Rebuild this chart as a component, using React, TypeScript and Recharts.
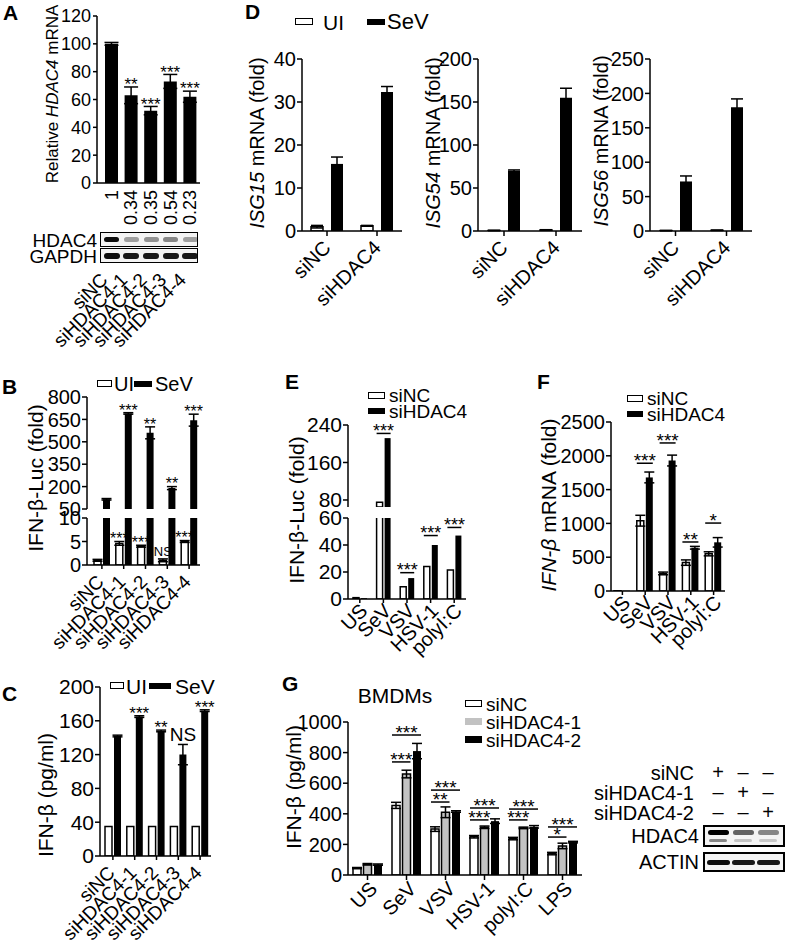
import React from "react";
import { BarChart, Bar, XAxis, YAxis, ErrorBar, LabelList } from "recharts";

const FONT = '"Liberation Sans", Arial, Helvetica, sans-serif';
const INK = "#000";
const GREY = "#c2c2c2";

// ---- A: HDAC4 knockdown efficiency ----
const aLanes = ["siNC", "siHDAC4-1", "siHDAC4-2", "siHDAC4-3", "siHDAC4-4"];
const aMrna = [100, 63, 52, 73, 62];
const aErr = [1, 6, 3, 5, 4];
const aSig = ["", "**", "***", "***", "***"];
const aFold = ["1", "0.34", "0.35", "0.54", "0.23"];
const aTicks = [0, 20, 40, 60, 80, 100, 120];
const aHdac4Band = [0.95, 0.35, 0.4, 0.45, 0.35];
const aGapdhBand = [0.95, 0.9, 0.9, 0.9, 0.9];

// ---- B: IFN-b-Luc, broken axis ----
const bUI = [1, 4.6, 4.0, 1.0, 5.0];
const bUIErr = [0.2, 0.4, 0.2, 0.3, 0.2];
const bSeV = [115, 690, 560, 190, 645];
const bSeVErr = [5, 5, 40, 10, 40];
const bSigUI = ["", "***", "***", "NS", "***"];
const bSigSeV = ["", "***", "**", "**", "***"];
const bTicksTop = [50, 200, 350, 500, 650, 800];
const bTicksLow = [0, 5, 10];

// ---- C: IFN-b ELISA ----
const cUI = [35, 35, 35, 35, 35];
const cUIErr = [0.5, 0.5, 0.5, 0.5, 0.5];
const cSeV = [142, 165, 148, 120, 172];
const cSeVErr = [1, 1, 1, 12, 1];
const cSig = ["", "***", "**", "NS", "***"];
const cTicks = [0, 40, 80, 120, 160, 200];

// ---- D: ISGs ----
const dGroups = ["siNC", "siHDAC4"];
const isg15UI = [1.0, 1.2];
const isg15UIErr = [0.3, 0.1];
const isg15SeV = [15.6, 32.3];
const isg15SeVErr = [1.6, 1.3];
const isg15Ticks = [0, 10, 20, 30, 40];
const isg54UI = [0.6, 1.2];
const isg54UIErr = [0.1, 0.3];
const isg54SeV = [70, 155];
const isg54SeVErr = [1, 11];
const isg54Ticks = [0, 50, 100, 150, 200];
const isg56UI = [0.6, 1.0];
const isg56UIErr = [0.1, 0.2];
const isg56SeV = [72, 180];
const isg56SeVErr = [8, 12];
const isg56Ticks = [0, 50, 100, 150, 200, 250];

// ---- E: IFN-b-Luc by stimulus ----
const stimuli = ["US", "SeV", "VSV", "HSV-1", "polyI:C"];
const eNC = [1, 75, 9, 24, 21.5];
const eKD = [0.6, 212, 15.5, 40, 47];
const eSig = ["", "***", "***", "***", "***"];
const eSigAt = [null, 222, 19.5, 47, 53];
const eTicksTop = [80, 160, 240];
const eTicksLow = [0, 20, 40, 60];

// ---- F: IFN-b mRNA ----
const fNC = [4, 1040, 260, 420, 550];
const fNCErr = [0, 80, 20, 40, 30];
const fKD = [4, 1680, 1930, 640, 720];
const fKDErr = [0, 80, 80, 20, 70];
const fSig = ["", "***", "***", "**", "*"];
const fSigAt = [null, 1890, 2190, 725, 1005];
const fTicks = [0, 500, 1000, 1500, 2000, 2500];

// ---- G: BMDMs ----
const gStimuli = ["US", "SeV", "VSV", "HSV-1", "polyI:C", "LPS"];
const gNC = [45, 455, 300, 250, 238, 140];
const gNCErr = [4, 20, 15, 8, 8, 8];
const gKD1 = [70, 660, 410, 312, 308, 190];
const gKD1Err = [5, 25, 35, 8, 5, 18];
const gKD2 = [68, 810, 415, 352, 315, 215];
const gKD2Err = [4, 50, 5, 15, 8, 5];
const gSig1 = ["", "***", "**", "***", "***", "*"];
const gSig1At = [null, 739, 477, 360, 360, 248];
const gSig2 = ["", "***", "***", "***", "***", "***"];
const gSig2At = [null, 915, 555, 438, 431, 314];
const gTicks = [0, 200, 400, 600, 800, 1000];
const gBlotRows = ["siNC", "siHDAC4-1", "siHDAC4-2"];
const gBlotSigns = [
  ["+", "–", "–"],
  ["–", "+", "–"],
  ["–", "–", "+"],
];
const gHdac4Band = [1, 0.6, 0.45];
const gHdac4Lower = [0.45, 0.2, 0.18];
const gActinBand = [0.95, 0.9, 0.9];

const line = { stroke: INK, strokeWidth: 1.5 };
const tickFont = (fs: number) => ({ fill: INK, fontSize: fs, fontFamily: FONT });

// rotated category labels, anchored at their end
function rotTick(dx: number, dy: number, fs: number, tickSize: number) {
  return (p: any) => {
    const ax = p.x + dx;
    const ay = p.y - tickSize + dy;
    return (
      <text x={ax} y={ay} textAnchor="end" fontSize={fs} fontFamily={FONT} fill={INK} transform={`rotate(-45 ${ax} ${ay})`}>
        {p.payload.value}
      </text>
    );
  };
}

// significance marks sitting on top of the error bar
function starLabel(cats: string[], sigs: string[], vals: number[], errs: number[], base: number, fs = 17, nsFs = 18) {
  return (p: any) => {
    const i = cats.indexOf(p.value);
    const s = sigs[i];
    if (!s) return null;
    const x = Number(p.x), y = Number(p.y), w = Number(p.width), h = Number(p.height);
    const ppu = h / (vals[i] - base);
    const top = y - errs[i] * ppu;
    const star = s.includes("*");
    return (
      <text x={x + w / 2} y={star ? top + fs * 0.43 - 4 : top - 3} textAnchor="middle" fontSize={star ? fs : nsFs} fontFamily={FONT} fill={INK}>
        {s}
      </text>
    );
  };
}

// significance bar spanning from the group's first bar to this one
function pairLabel(cats: string[], sigs: string[], at: (number | null)[], vals: number[], base: number, hi: number, span: number, fs = 18) {
  return (p: any) => {
    const i = cats.indexOf(p.value);
    const s = sigs[i];
    const L = at[i];
    if (!s || L == null || L < base || L > hi) return null;
    const x = Number(p.x), y = Number(p.y), w = Number(p.width), h = Number(p.height);
    const ppu = h / (vals[i] - base);
    const ly = y + h - (L - base) * ppu;
    const x1 = x - span;
    const x2 = x + w;
    return (
      <g>
        <line x1={x1} x2={x2} y1={ly} y2={ly} stroke={INK} strokeWidth={1.5} />
        <text x={(x1 + x2) / 2} y={ly + fs * 0.43 - 4} textAnchor="middle" fontSize={fs} fontFamily={FONT} fill={INK}>
          {s}
        </text>
      </g>
    );
  };
}

const Txt = ({ x, y, fs = 20, anchor = "start", bold = false, children }: any) => (
  <div
    style={{
      position: "absolute",
      left: x,
      top: y - fs / 2,
      fontSize: fs,
      lineHeight: `${fs}px`,
      fontFamily: FONT,
      fontWeight: bold ? 700 : 400,
      whiteSpace: "nowrap",
      transform: anchor === "end" ? "translateX(-100%)" : anchor === "middle" ? "translateX(-50%)" : undefined,
    }}
  >
    {children}
  </div>
);

const VTxt = ({ x, y, fs = 20, children }: any) => (
  <div
    style={{
      position: "absolute",
      left: x,
      top: y,
      fontSize: fs,
      lineHeight: `${fs}px`,
      fontFamily: FONT,
      whiteSpace: "nowrap",
      transform: "translate(-50%, -50%) rotate(-90deg)",
    }}
  >
    {children}
  </div>
);

const Box = ({ x, y, w, h, fill, border = 1.5 }: any) => (
  <div
    style={{
      position: "absolute",
      left: x,
      top: y,
      width: w,
      height: h,
      background: fill,
      border: border ? `${border}px solid ${INK}` : "none",
      boxSizing: "border-box",
    }}
  />
);

const Band = ({ cx, cy, w, h, a }: any) => (
  <div
    style={{
      position: "absolute",
      left: cx - w / 2,
      top: cy - h / 2,
      width: w,
      height: h,
      borderRadius: h / 2,
      background: `rgba(0,0,0,${a})`,
      filter: "blur(0.7px)",
    }}
  />
);

const At = ({ x, y, children }: any) => <div style={{ position: "absolute", left: x, top: y }}>{children}</div>;

function PanelA() {
  const data = aLanes.map((name, i) => ({ name, v: aMrna[i], e: aErr[i] }));
  const aTick = (p: any) => {
    const i = aLanes.indexOf(p.payload.value);
    const fx = p.x + 6, fy = p.y + 7;
    const lx = p.x - 3, ly = p.y + 98;
    return (
      <g>
        <text x={fx} y={fy} textAnchor="end" fontSize={18} fontFamily={FONT} fill={INK} transform={`rotate(-90 ${fx} ${fy})`}>
          {aFold[i]}
        </text>
        <text x={lx} y={ly} textAnchor="end" fontSize={19} fontFamily={FONT} fill={INK} transform={`rotate(-45 ${lx} ${ly})`}>
          {p.payload.value}
        </text>
      </g>
    );
  };
  return (
    <At x={0} y={0}>
      <BarChart width={210} height={370} data={data} margin={{ top: 16, right: 10, left: 0, bottom: 0 }}>
        <XAxis dataKey="name" height={187} interval={0} padding={{ left: 5, right: 0 }} tickSize={0} tickMargin={0} axisLine={line} tickLine={false} tick={aTick} />
        <YAxis domain={[0, 120]} ticks={aTicks} interval={0} width={97} tick={tickFont(18)} tickSize={4} tickMargin={2} axisLine={line} tickLine={line} allowDataOverflow />
        <Bar dataKey="v" fill={INK} barSize={13} isAnimationActive={false}>
          <ErrorBar dataKey="e" width={7} stroke={INK} strokeWidth={1.5} />
          <LabelList dataKey="name" content={starLabel(aLanes, aSig, aMrna, aErr, 0)} />
        </Bar>
      </BarChart>
    </At>
  );
}

function PanelB() {
  const top = aLanes.map((name, i) => ({ name, ui: null, sev: bSeV[i], sevErr: bSeVErr[i] }));
  const low = aLanes.map((name, i) => ({ name, ui: bUI[i], uiErr: bUIErr[i], sev: bSeV[i] }));
  return (
    <>
      <At x={0} y={380}>
        <BarChart width={210} height={140} data={top} margin={{ top: 17, right: 10, left: 0, bottom: 11 }} barGap={2}>
          <XAxis dataKey="name" hide padding={{ left: 4, right: 0 }} />
          <YAxis domain={[50, 800]} ticks={bTicksTop} interval={0} width={87} tick={tickFont(20)} tickSize={5} tickMargin={1} axisLine={line} tickLine={line} allowDataOverflow />
          <Bar dataKey="ui" barSize={7} fill="#fff" stroke={INK} strokeWidth={1.5} isAnimationActive={false} />
          <Bar dataKey="sev" barSize={7} fill={INK} isAnimationActive={false}>
            <ErrorBar dataKey="sevErr" width={5} stroke={INK} strokeWidth={1.5} />
            <LabelList dataKey="name" content={starLabel(aLanes, bSigSeV, bSeV, bSeVErr, 50, 16)} />
          </Bar>
        </BarChart>
      </At>
      <At x={0} y={498}>
        <BarChart width={210} height={213} data={low} margin={{ top: 20, right: 10, left: 0, bottom: 0 }} barGap={2}>
          <XAxis dataKey="name" height={146} interval={0} padding={{ left: 4, right: 0 }} tickSize={4} tickMargin={0} axisLine={line} tickLine={line} tick={rotTick(3, 18, 19, 4)} />
          <YAxis domain={[0, 10]} ticks={bTicksLow} interval={0} width={87} tick={tickFont(20)} tickSize={5} tickMargin={1} axisLine={line} tickLine={line} allowDataOverflow />
          <Bar dataKey="ui" barSize={7} fill="#fff" stroke={INK} strokeWidth={1.5} isAnimationActive={false}>
            <ErrorBar dataKey="uiErr" width={5} stroke={INK} strokeWidth={1.5} />
            <LabelList dataKey="name" content={starLabel(aLanes, bSigUI, bUI, bUIErr, 0, 16, 13)} />
          </Bar>
          <Bar dataKey="sev" barSize={7} fill={INK} isAnimationActive={false} />
        </BarChart>
      </At>
    </>
  );
}

function PanelC() {
  const data = aLanes.map((name, i) => ({ name, ui: cUI[i], uiErr: cUIErr[i], sev: cSeV[i], sevErr: cSeVErr[i] }));
  return (
    <At x={0} y={670}>
      <BarChart width={221} height={279} data={data} margin={{ top: 17, right: 10, left: 0, bottom: 0 }} barGap={2}>
        <XAxis dataKey="name" height={93} interval={0} padding={{ left: 2, right: 0 }} tickSize={4} tickMargin={0} axisLine={line} tickLine={line} tick={rotTick(3, 18, 19, 4)} />
        <YAxis domain={[0, 200]} ticks={cTicks} interval={0} width={100} tick={tickFont(21)} tickSize={5} tickMargin={1} axisLine={line} tickLine={line} allowDataOverflow />
        <Bar dataKey="ui" barSize={7} fill="#fff" stroke={INK} strokeWidth={1.5} isAnimationActive={false} />
        <Bar dataKey="sev" barSize={7} fill={INK} isAnimationActive={false}>
          <ErrorBar dataKey="sevErr" width={5} stroke={INK} strokeWidth={1.5} />
          <LabelList dataKey="name" content={starLabel(aLanes, cSig, cSeV, cSeVErr, 0, 17, 19)} />
        </Bar>
      </BarChart>
    </At>
  );
}

function IsgChart({ left, yw, ui, uiErr, sev, sevErr, ticks }: any) {
  const data = dGroups.map((name, i) => ({ name, ui: ui[i], uiErr: uiErr[i], sev: sev[i], sevErr: sevErr[i] }));
  return (
    <At x={left} y={40}>
      <BarChart width={212} height={280} data={data} margin={{ top: 19, right: 10, left: 0, bottom: 0 }} barGap={8}>
        <XAxis dataKey="name" height={89} interval={0} tickSize={5} tickMargin={0} axisLine={line} tickLine={line} tick={rotTick(5, 18, 20, 5)} />
        <YAxis domain={[0, ticks[ticks.length - 1]]} ticks={ticks} interval={0} width={yw} tick={tickFont(20)} tickSize={5} tickMargin={1} axisLine={line} tickLine={line} allowDataOverflow />
        <Bar dataKey="ui" barSize={12} fill="#fff" stroke={INK} strokeWidth={1.5} isAnimationActive={false}>
          <ErrorBar dataKey="uiErr" width={6} stroke={INK} strokeWidth={1.5} />
        </Bar>
        <Bar dataKey="sev" barSize={12} fill={INK} isAnimationActive={false}>
          <ErrorBar dataKey="sevErr" width={6} stroke={INK} strokeWidth={1.5} />
        </Bar>
      </BarChart>
    </At>
  );
}

function PanelE() {
  const topMin = 65;
  const top = stimuli.map((name, i) => ({ name, nc: eNC[i] > topMin ? eNC[i] : null, kd: eKD[i] > topMin ? eKD[i] : null }));
  const low = stimuli.map((name, i) => ({ name, nc: eNC[i], kd: eKD[i] }));
  return (
    <>
      <At x={280} y={405}>
        <BarChart width={196} height={112} data={top} margin={{ top: 20, right: 10, left: 0, bottom: 10 }} barGap={2}>
          <XAxis dataKey="name" hide />
          <YAxis domain={[topMin, 240]} ticks={eTicksTop} interval={0} width={68} tick={tickFont(21)} tickSize={5} tickMargin={1} axisLine={line} tickLine={line} allowDataOverflow />
          <Bar dataKey="nc" barSize={6} fill="#fff" stroke={INK} strokeWidth={1.5} isAnimationActive={false} />
          <Bar dataKey="kd" barSize={6} fill={INK} isAnimationActive={false}>
            <LabelList dataKey="name" content={pairLabel(stimuli, eSig, eSigAt, eKD, topMin, 240, 8)} />
          </Bar>
        </BarChart>
      </At>
      <At x={280} y={498}>
        <BarChart width={196} height={172} data={low} margin={{ top: 20, right: 10, left: 0, bottom: 0 }} barGap={2}>
          <XAxis dataKey="name" height={71} interval={0} tickSize={4} tickMargin={0} axisLine={line} tickLine={line} tick={rotTick(9, 13, 20, 4)} />
          <YAxis domain={[0, 60]} ticks={eTicksLow} interval={0} width={68} tick={tickFont(21)} tickSize={5} tickMargin={1} axisLine={line} tickLine={line} allowDataOverflow />
          <Bar dataKey="nc" barSize={6} fill="#fff" stroke={INK} strokeWidth={1.5} isAnimationActive={false} />
          <Bar dataKey="kd" barSize={6} fill={INK} isAnimationActive={false}>
            <LabelList dataKey="name" content={pairLabel(stimuli, eSig, eSigAt, eKD, 0, 60, 8)} />
          </Bar>
        </BarChart>
      </At>
    </>
  );
}

function PanelF() {
  const data = stimuli.map((name, i) => ({ name, nc: fNC[i], ncErr: fNCErr[i], kd: fKD[i], kdErr: fKDErr[i] }));
  return (
    <At x={520} y={400}>
      <BarChart width={215} height={270} data={data} margin={{ top: 22, right: 10, left: 0, bottom: 0 }} barGap={2}>
        <XAxis dataKey="name" height={79} interval={0} tickSize={4} tickMargin={0} axisLine={line} tickLine={line} tick={rotTick(9, 13, 20, 4)} />
        <YAxis domain={[0, 2500]} ticks={fTicks} interval={0} width={91} tick={tickFont(20)} tickSize={5} tickMargin={1} axisLine={line} tickLine={line} allowDataOverflow />
        <Bar dataKey="nc" barSize={7} fill="#fff" stroke={INK} strokeWidth={1.5} isAnimationActive={false}>
          <ErrorBar dataKey="ncErr" width={5} stroke={INK} strokeWidth={1.5} />
        </Bar>
        <Bar dataKey="kd" barSize={7} fill={INK} isAnimationActive={false}>
          <ErrorBar dataKey="kdErr" width={5} stroke={INK} strokeWidth={1.5} />
          <LabelList dataKey="name" content={pairLabel(stimuli, fSig, fSigAt, fKD, 0, 2500, 9, 19)} />
        </Bar>
      </BarChart>
    </At>
  );
}

function PanelG() {
  const data = gStimuli.map((name, i) => ({
    name,
    nc: gNC[i],
    ncErr: gNCErr[i],
    kd1: gKD1[i],
    kd1Err: gKD1Err[i],
    kd2: gKD2[i],
    kd2Err: gKD2Err[i],
  }));
  return (
    <At x={280} y={700}>
      <BarChart width={312} height={249} data={data} margin={{ top: 22, right: 10, left: 0, bottom: 0 }} barGap={2.5}>
        <XAxis dataKey="name" height={74} interval={0} tickSize={5} tickMargin={0} axisLine={line} tickLine={line} tick={rotTick(11, 15, 20, 5)} />
        <YAxis domain={[0, 1000]} ticks={gTicks} interval={0} width={68} tick={tickFont(20)} tickSize={5} tickMargin={1} axisLine={line} tickLine={line} allowDataOverflow />
        <Bar dataKey="nc" barSize={8} fill="#fff" stroke={INK} strokeWidth={1.5} isAnimationActive={false}>
          <ErrorBar dataKey="ncErr" width={5} stroke={INK} strokeWidth={1.5} />
        </Bar>
        <Bar dataKey="kd1" barSize={8} fill={GREY} stroke={INK} strokeWidth={1.5} isAnimationActive={false}>
          <ErrorBar dataKey="kd1Err" width={5} stroke={INK} strokeWidth={1.5} />
          <LabelList dataKey="name" content={pairLabel(gStimuli, gSig1, gSig1At, gKD1, 0, 1000, 10.5, 19)} />
        </Bar>
        <Bar dataKey="kd2" barSize={8} fill={INK} isAnimationActive={false}>
          <ErrorBar dataKey="kd2Err" width={5} stroke={INK} strokeWidth={1.5} />
          <LabelList dataKey="name" content={pairLabel(gStimuli, gSig2, gSig2At, gKD2, 0, 1000, 21, 19)} />
        </Bar>
      </BarChart>
    </At>
  );
}

export default function App() {
  const aLaneX = aLanes.map((_, i) => 102 + 19.6 * (i + 0.5));
  const gLaneX = [718, 743, 768];
  return (
    <div style={{ position: "absolute", left: 0, top: 0, width: 786, height: 949, background: "#fff", overflow: "hidden", fontFamily: FONT }}>
      <PanelA />
      <PanelB />
      <PanelC />
      <IsgChart left={200} yw={102} ui={isg15UI} uiErr={isg15UIErr} sev={isg15SeV} sevErr={isg15SeVErr} ticks={isg15Ticks} />
      <IsgChart left={380} yw={98} ui={isg54UI} uiErr={isg54UIErr} sev={isg54SeV} sevErr={isg54SeVErr} ticks={isg54Ticks} />
      <IsgChart left={550} yw={100} ui={isg56UI} uiErr={isg56UIErr} sev={isg56SeV} sevErr={isg56SeVErr} ticks={isg56Ticks} />
      <PanelE />
      <PanelF />
      <PanelG />

      {/* panel letters */}
      <Txt x={3} y={12} fs={21} bold>A</Txt>
      <Txt x={2} y={386} fs={21} bold>B</Txt>
      <Txt x={2} y={693} fs={21} bold>C</Txt>
      <Txt x={245} y={11} fs={21} bold>D</Txt>
      <Txt x={285} y={381} fs={21} bold>E</Txt>
      <Txt x={537} y={381} fs={21} bold>F</Txt>
      <Txt x={282} y={683} fs={21} bold>G</Txt>

      {/* axis titles */}
      <VTxt x={52} y={94} fs={17}>
        Relative <i>HDAC4</i> mRNA
      </VTxt>
      <VTxt x={35} y={478} fs={21}>IFN-β-Luc (fold)</VTxt>
      <VTxt x={45} y={795} fs={21}>IFN-β (pg/ml)</VTxt>
      <VTxt x={257} y={143} fs={20}>
        <i>ISG15</i> mRNA (fold)
      </VTxt>
      <VTxt x={433} y={143} fs={20}>
        <i>ISG54</i> mRNA (fold)
      </VTxt>
      <VTxt x={601} y={141} fs={20}>
        <i>ISG56</i> mRNA (fold)
      </VTxt>
      <VTxt x={296} y={510} fs={21}>IFN-β-Luc (fold)</VTxt>
      <VTxt x={548} y={505} fs={21}>
        <i>IFN-β</i> mRNA (fold)
      </VTxt>
      <VTxt x={293} y={787} fs={21}>IFN-β (pg/ml)</VTxt>

      {/* A blot */}
      <Box x={100} y={232} w={98} h={15} fill="#f4f4f4" />
      <Box x={100} y={248} w={98} h={15} fill="#f4f4f4" />
      {aLaneX.map((cx, i) => (
        <Band key={"ah" + i} cx={cx} cy={239.5} w={15} h={5} a={aHdac4Band[i]} />
      ))}
      {aLaneX.map((cx, i) => (
        <Band key={"ag" + i} cx={cx} cy={255.5} w={16} h={6} a={aGapdhBand[i]} />
      ))}
      <Txt x={97} y={240} fs={19} anchor="end">HDAC4</Txt>
      <Txt x={97} y={256} fs={19} anchor="end">GAPDH</Txt>

      {/* legends */}
      <Box x={97} y={380} w={15} h={7} fill="#fff" />
      <Txt x={114} y={384} fs={20}>UI</Txt>
      <Box x={134} y={381} w={18} h={6} fill={INK} border={0} />
      <Txt x={155} y={384} fs={20}>SeV</Txt>

      <Box x={110} y={682} w={14} h={7} fill="#fff" />
      <Txt x={126} y={686} fs={21}>UI</Txt>
      <Box x={149} y={683} w={22} h={6} fill={INK} border={0} />
      <Txt x={175} y={686} fs={21}>SeV</Txt>

      <Box x={295} y={18} w={18} h={7} fill="#fff" />
      <Txt x={323} y={22} fs={21}>UI</Txt>
      <Box x={367} y={19} w={18} h={6} fill={INK} border={0} />
      <Txt x={387} y={22} fs={22}>SeV</Txt>

      <Box x={368} y={392} w={17} h={7} fill="#fff" />
      <Txt x={389} y={395} fs={19}>siNC</Txt>
      <Box x={368} y={408} w={17} h={6} fill={INK} border={0} />
      <Txt x={389} y={411} fs={19}>siHDAC4</Txt>

      <Box x={627} y={395} w={16} h={7} fill="#fff" />
      <Txt x={647} y={398} fs={19}>siNC</Txt>
      <Box x={627} y={411} w={16} h={6} fill={INK} border={0} />
      <Txt x={647} y={414} fs={19}>siHDAC4</Txt>

      <Txt x={395} y={695} fs={21} anchor="middle">BMDMs</Txt>
      <Box x={465} y={700} w={17} h={7} fill="#fff" />
      <Txt x={486} y={704} fs={19}>siNC</Txt>
      <Box x={465} y={718} w={17} h={7} fill={GREY} border={0} />
      <Txt x={486} y={722} fs={19}>siHDAC4-1</Txt>
      <Box x={465} y={736} w={17} h={7} fill={INK} border={0} />
      <Txt x={486} y={740} fs={19}>siHDAC4-2</Txt>

      {/* G blot */}
      {gBlotRows.map((r, ri) => (
        <React.Fragment key={r}>
          <Txt x={694} y={773 + ri * 20} fs={20} anchor="end">{r}</Txt>
          {gBlotSigns[ri].map((s, li) => (
            <Txt key={li} x={gLaneX[li]} y={772 + ri * 20} fs={20} anchor="middle">{s}</Txt>
          ))}
        </React.Fragment>
      ))}
      <Box x={703} y={825} w={82} h={22} fill="#f4f4f4" border={2} />
      <Box x={703} y={852} w={82} h={20} fill="#f4f4f4" border={2} />
      {gLaneX.map((cx, i) => (
        <React.Fragment key={"gb" + i}>
          <Band cx={cx} cy={832} w={21} h={5} a={gHdac4Band[i]} />
          <Band cx={cx} cy={840} w={18} h={3} a={gHdac4Lower[i]} />
          <Band cx={cx} cy={862} w={23} h={5} a={gActinBand[i]} />
        </React.Fragment>
      ))}
      <Txt x={699} y={836} fs={20} anchor="end">HDAC4</Txt>
      <Txt x={699} y={862} fs={20} anchor="end">ACTIN</Txt>
    </div>
  );
}
